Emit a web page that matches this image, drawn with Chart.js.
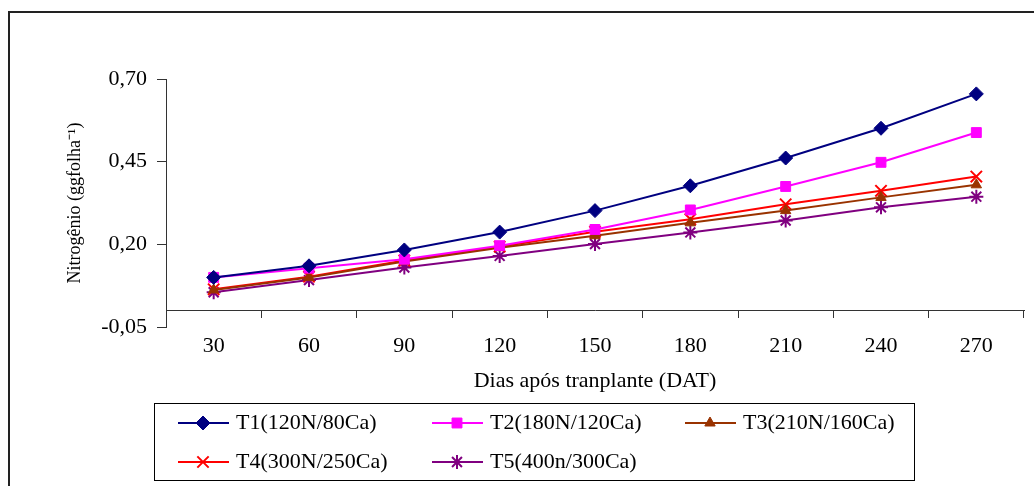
<!DOCTYPE html>
<html>
<head>
<meta charset="utf-8">
<script src="https://cdn.jsdelivr.net/npm/chart.js"></script>
<style>
  html, body { margin: 0; padding: 0; background: #fff; }
  canvas { display: block; }
</style>
</head>
<body>
<canvas id="nChart" width="1034" height="486"></canvas>
<script>
// Data
const days = ['30', '60', '90', '120', '150', '180', '210', '240', '270'];
const t1 = [0.100, 0.135, 0.183, 0.237, 0.302, 0.377, 0.461, 0.551, 0.655];
const t2 = [0.100, 0.128, 0.155, 0.196, 0.245, 0.304, 0.375, 0.448, 0.538];
const t3 = [0.062, 0.100, 0.148, 0.190, 0.226, 0.265, 0.302, 0.342, 0.380];
const t4 = [0.064, 0.102, 0.151, 0.193, 0.238, 0.276, 0.321, 0.362, 0.405];
const t5 = [0.055, 0.092, 0.130, 0.165, 0.201, 0.236, 0.272, 0.312, 0.344];
const yTicks = [-0.05, 0.20, 0.45, 0.70];
const seriesNames = ['T1(120N/80Ca)', 'T2(180N/120Ca)', 'T3(210N/160Ca)', 'T4(300N/250Ca)', 'T5(400n/300Ca)'];

const FONT = 'Liberation Serif, Times New Roman, serif';

function series(label, data, color, style, radius, bw) {
  return {
    label: label,
    data: data,
    borderColor: color,
    backgroundColor: color,
    pointBackgroundColor: color,
    pointBorderColor: color,
    pointStyle: style,
    pointRadius: radius,
    pointBorderWidth: bw,
    borderWidth: 2,
    tension: 0,
    fill: false
  };
}

// Outer frame (left + top edges only, rest is cut off)
const frame = {
  id: 'frame',
  beforeDraw(chart) {
    const ctx = chart.ctx;
    ctx.save();
    ctx.strokeStyle = '#222';
    ctx.lineWidth = 2;
    ctx.beginPath();
    ctx.moveTo(9, 486);
    ctx.lineTo(9, 12);
    ctx.lineTo(1034, 12);
    ctx.stroke();
    ctx.restore();
  }
};

// Boxed legend under the axis title, 3 columns
const legendBox = {
  id: 'legendBox',
  afterDraw(chart) {
    const ctx = chart.ctx;
    const cols = [178, 432, 685];
    const rows = [423, 462];
    ctx.save();
    ctx.strokeStyle = '#000';
    ctx.lineWidth = 1;
    ctx.strokeRect(154.5, 403.5, 760, 77);
    chart.data.datasets.forEach((ds, i) => {
      const x = cols[i % 3];
      const y = rows[Math.floor(i / 3)];
      ctx.strokeStyle = ds.borderColor;
      ctx.lineWidth = 2;
      ctx.beginPath();
      ctx.moveTo(x, y);
      ctx.lineTo(x + 51, y);
      ctx.stroke();
      ctx.fillStyle = ds.pointBackgroundColor;
      ctx.strokeStyle = ds.pointBorderColor;
      ctx.lineWidth = ds.pointBorderWidth;
      Chart.helpers.drawPoint(ctx, {
        pointStyle: ds.pointStyle,
        radius: ds.pointRadius,
        borderWidth: ds.pointBorderWidth,
        rotation: 0
      }, x + 25, y);
      ctx.fillStyle = '#000';
      ctx.font = '22px ' + FONT;
      ctx.textBaseline = 'middle';
      ctx.textAlign = 'left';
      ctx.fillText(ds.label, x + 58, y);
    });
    ctx.restore();
  }
};

new Chart(document.getElementById('nChart'), {
  type: 'line',
  data: {
    labels: days,
    datasets: [
      series(seriesNames[0], t1, '#000080', 'rectRot', 7, 1),
      series(seriesNames[1], t2, '#FF00FF', 'rect', 7, 1),
      series(seriesNames[2], t3, '#993300', 'triangle', 6, 1),
      series(seriesNames[3], t4, '#FF0000', 'crossRot', 8, 2),
      series(seriesNames[4], t5, '#800080', 'star', 7, 2)
    ]
  },
  options: {
    responsive: false,
    animation: false,
    events: [],
    layout: { padding: { left: 0, right: 8, top: 79, bottom: 159 } },
    plugins: {
      legend: { display: false },
      tooltip: { enabled: false }
    },
    scales: {
      x: {
        position: { y: 0 },
        offset: true,
        afterFit: (scale) => { scale.height = 87; },
        grid: {
          offset: true,
          drawOnChartArea: false,
          drawTicks: true,
          tickLength: 7,
          color: '#333'
        },
        border: { color: '#333', width: 1 },
        ticks: {
          color: '#000',
          padding: 16,
          maxRotation: 0,
          font: { family: FONT, size: 22 }
        },
        title: {
          display: true,
          text: 'Dias após tranplante (DAT)',
          color: '#000',
          padding: { top: 0, bottom: 3 },
          font: { family: FONT, size: 22 }
        }
      },
      y: {
        min: -0.05,
        max: 0.70,
        afterBuildTicks: (scale) => { scale.ticks = yTicks.map(v => ({ value: v })); },
        afterFit: (scale) => { scale.width = 166; },
        grid: {
          drawOnChartArea: false,
          drawTicks: true,
          tickLength: 9,
          color: '#333'
        },
        border: { color: '#333', width: 1 },
        ticks: {
          color: '#000',
          padding: 10,
          font: { family: FONT, size: 22 },
          callback: (v) => v.toFixed(2).replace('.', ',')
        },
        title: {
          display: true,
          text: 'Nitrogênio (ggfolha⁻¹)',
          color: '#000',
          padding: { top: 64, bottom: 0 },
          font: { family: FONT, size: 18 }
        }
      }
    }
  },
  plugins: [frame, legendBox]
});
</script>
</body>
</html>
